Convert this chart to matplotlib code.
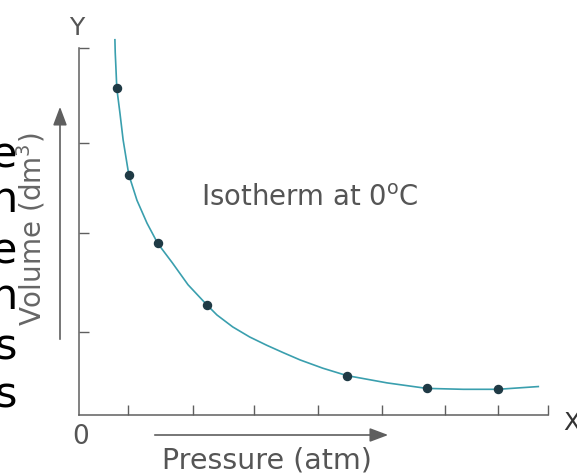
import matplotlib
matplotlib.use('Agg')
import matplotlib.pyplot as plt

# measured points (pressure, volume) in chart units
pressure = [0.60, 0.79, 1.25, 2.03, 4.25, 5.52, 6.65]
volume = [3.56, 2.62, 1.87, 1.20, 0.43, 0.29, 0.28]

# isotherm curve
curve_p = [0.57, 0.575, 0.585, 0.60, 0.65, 0.70, 0.79, 0.92, 1.08, 1.25, 1.48,
           1.73, 2.03, 2.19, 2.44, 2.71, 2.98, 3.24, 3.51, 3.87, 4.25, 4.89,
           5.52, 6.10, 6.65, 7.29]
curve_v = [4.09, 3.95, 3.80, 3.56, 3.29, 3.00, 2.62, 2.34, 2.09, 1.87, 1.66,
           1.42, 1.20, 1.09, 0.96, 0.85, 0.76, 0.68, 0.60, 0.51, 0.43, 0.35,
           0.29, 0.28, 0.28, 0.31]

x_ticks = [0.78, 1.81, 2.78, 3.79, 4.81, 5.81, 6.65, 7.44]
y_ticks = [0.90, 1.98, 2.96, 4.0]

# cut-off letters on the left edge of the scan
edge_letters = ['e', 'n', 'e', 'n', 's', 's']
edge_rows = [155, 200, 252, 297, 348, 396]

W, H = 577, 475
grey = '#5f5f5f'
plt.rcParams['font.family'] = ['DejaVu Sans']

fig = plt.figure(figsize=(W / 100, H / 100), dpi=100)
ax = fig.add_axes([79 / W, 1 - 415 / H, 469 / W, 367 / H])

ax.plot(curve_p, curve_v, color='#3a9fae', lw=1.2, clip_on=False, zorder=2)
ax.plot(pressure, volume, 'o', color='#1f3a45', ms=5.8, zorder=3, clip_on=False)

ax.set_xlim(0, 7.444)
ax.set_ylim(0, 4.0)
ax.set_xticks(x_ticks)
ax.set_yticks(y_ticks)
ax.set_xticklabels([])
ax.set_yticklabels([])
ax.tick_params(direction='in', length=7.5, width=1.0, color=grey)
for s in ['top', 'right']:
    ax.spines[s].set_visible(False)
for s in ['left', 'bottom']:
    ax.spines[s].set_color(grey)
    ax.spines[s].set_linewidth(1.1)


def fx(px):
    return px / W


def fy(py):
    return 1 - py / H


fig.text(fx(310), fy(198), 'Isotherm at 0$^\\mathregular{o}$C', fontsize=19.8,
         color='#555555', ha='center', va='center')
fig.text(fx(31), fy(229), 'Volume (dm$^\\mathregular{3}$)', fontsize=20,
         color='#666666', rotation=90, ha='center', va='center')
fig.text(fx(267), fy(461), 'Pressure (atm)', fontsize=20.5, color='#555555',
         ha='center', va='center')
fig.text(fx(77), fy(28), 'Y', fontsize=18, color='#555555', ha='center', va='center')
fig.text(fx(81), fy(437), '0', fontsize=19, color='#555555', ha='center', va='center')
fig.text(fx(572), fy(423), 'X', fontsize=18, color='#333333', ha='center', va='center')

for letter, row in zip(edge_letters, edge_rows):
    fig.text(fx(17), fy(row), letter, fontsize=31, color='black',
             ha='right', va='center')

# direction arrows
arrow = dict(arrowstyle='-|>,head_length=0.8,head_width=0.3', color=grey, lw=1.2)
fig.add_artist(matplotlib.patches.FancyArrowPatch(
    (fx(60), fy(342)), (fx(60), fy(104)), transform=fig.transFigure,
    mutation_scale=14, **arrow))
fig.add_artist(matplotlib.patches.FancyArrowPatch(
    (fx(152), fy(435)), (fx(391), fy(435)), transform=fig.transFigure,
    mutation_scale=14, **arrow))

fig.savefig('out.png', dpi=100)
